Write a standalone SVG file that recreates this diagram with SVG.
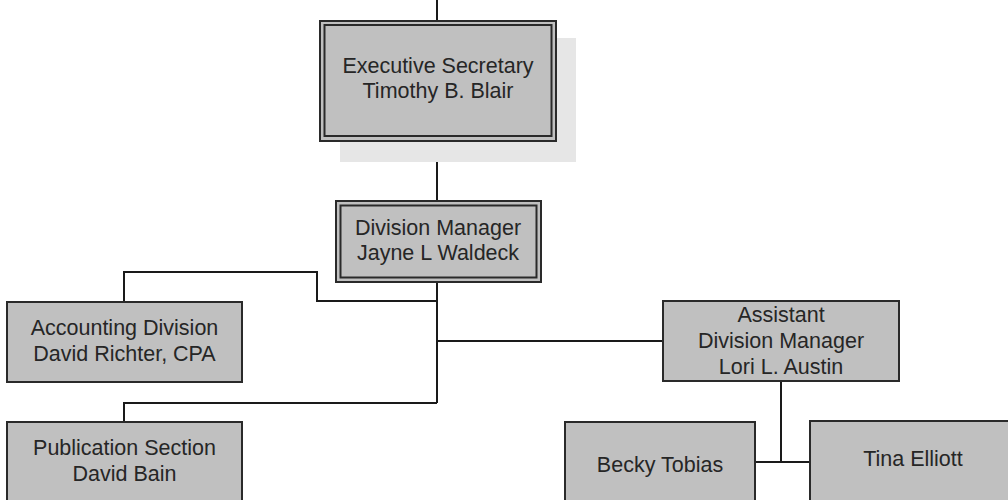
<svg xmlns="http://www.w3.org/2000/svg" width="1008" height="500" viewBox="0 0 1008 500">
<style>
.box{fill:#c0c0c0;stroke:#2a2a2a;stroke-width:2}
.inner{fill:none;stroke:#2a2a2a;stroke-width:2}
.shadow{fill:#e6e6e6}
.t{font-family:"Liberation Sans",Arial,sans-serif;font-size:21.5px;fill:#262626;text-anchor:middle}
.c{fill:none;stroke:#1a1a1a;stroke-width:2}
</style>
<rect width="1008" height="500" fill="#ffffff"/>
<g id="connectors">
<path class="c" d="M437,0 V20"/>
<path class="c" d="M437,141 V201"/>
<path class="c" d="M437,282 V403"/>
<path class="c" d="M437,301 H317 V272 H124 V302"/>
<path class="c" d="M437,341 H663"/>
<path class="c" d="M437,403 H124 V422"/>
<path class="c" d="M781,381 V462"/>
<path class="c" d="M755,462 H810"/>
</g>
<g id="executive-secretary">
<rect class="shadow" x="340" y="38" width="236" height="124"/>
<rect class="box" x="320" y="21" width="236" height="120"/>
<rect class="inner" x="324.5" y="25" width="227" height="111"/>
<text class="t" x="438" y="73">Executive Secretary</text>
<text class="t" x="438" y="98">Timothy B. Blair</text>
</g>
<g id="division-manager">
<rect class="box" x="336" y="201" width="205" height="81"/>
<rect class="inner" x="340.5" y="205.5" width="196" height="72"/>
<text class="t" x="438" y="235">Division Manager</text>
<text class="t" x="438" y="260">Jayne L Waldeck</text>
</g>
<g id="accounting-division">
<rect class="box" x="7" y="302" width="235" height="80"/>
<text class="t" x="124.5" y="335">Accounting Division</text>
<text class="t" x="124.5" y="361">David Richter, CPA</text>
</g>
<g id="publication-section">
<rect class="box" x="7" y="422" width="235" height="90"/>
<text class="t" x="124.5" y="455">Publication Section</text>
<text class="t" x="124.5" y="481">David Bain</text>
</g>
<g id="assistant-division-manager">
<rect class="box" x="663" y="301" width="236" height="80"/>
<text class="t" x="781" y="322">Assistant</text>
<text class="t" x="781" y="348">Division Manager</text>
<text class="t" x="781" y="374">Lori L. Austin</text>
</g>
<g id="becky-tobias">
<rect class="box" x="565" y="422" width="190" height="90"/>
<text class="t" x="660" y="472">Becky Tobias</text>
</g>
<g id="tina-elliott">
<rect class="box" x="810" y="421" width="210" height="90"/>
<text class="t" x="913" y="466">Tina Elliott</text>
</g>
</svg>
